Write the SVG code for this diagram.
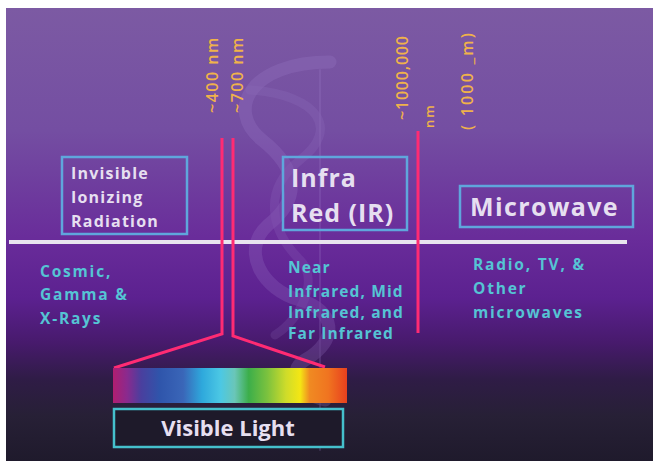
<svg xmlns="http://www.w3.org/2000/svg" width="653" height="461" viewBox="0 0 653 461">
<defs>
<linearGradient id="bg" x1="0" y1="8" x2="0" y2="461" gradientUnits="userSpaceOnUse">
<stop offset="0" stop-color="#7c5aa3"/>
<stop offset="0.27" stop-color="#744ea2"/>
<stop offset="0.51" stop-color="#692c9a"/>
<stop offset="0.64" stop-color="#5c2190"/>
<stop offset="0.74" stop-color="#471a6c"/>
<stop offset="0.82" stop-color="#2f1c46"/>
<stop offset="0.9" stop-color="#272036"/>
<stop offset="1" stop-color="#1f1a2c"/>
</linearGradient>
<linearGradient id="spec" x1="113" y1="0" x2="347" y2="0" gradientUnits="userSpaceOnUse">
<stop offset="0" stop-color="#b01e70"/>
<stop offset="0.06" stop-color="#8a2a8e"/>
<stop offset="0.12" stop-color="#4a3f9e"/>
<stop offset="0.2" stop-color="#2f55ab"/>
<stop offset="0.3" stop-color="#3a66b8"/>
<stop offset="0.38" stop-color="#2ea8dc"/>
<stop offset="0.46" stop-color="#4cc8e4"/>
<stop offset="0.52" stop-color="#6ac6b8"/>
<stop offset="0.58" stop-color="#3cae4a"/>
<stop offset="0.66" stop-color="#7cc23e"/>
<stop offset="0.74" stop-color="#cfdc2a"/>
<stop offset="0.8" stop-color="#f4e614"/>
<stop offset="0.84" stop-color="#f08a22"/>
<stop offset="0.92" stop-color="#f07420"/>
<stop offset="1" stop-color="#e8401e"/>
</linearGradient>
<style>
.box{fill:none;stroke:#5fa6dc;stroke-width:2.5}
.t{font-family:"Open Sans","DejaVu Sans",sans-serif;font-weight:700;fill:#e6dff0}
.c{font-family:"Open Sans","DejaVu Sans",sans-serif;font-weight:700;fill:#55c4d4;font-size:15.5px;letter-spacing:1.8px}
.o{font-family:"Open Sans","DejaVu Sans",sans-serif;font-weight:600;fill:#f0b24a;font-size:16px;letter-spacing:1.5px}
.pk{fill:none;stroke:#ff2b73;stroke-width:3;stroke-linejoin:miter}
.wm{fill:none;stroke:#a384d0;stroke-linecap:round}
</style>
</defs>

<rect x="0" y="0" width="653" height="461" fill="#ffffff"/>
<rect x="6" y="8" width="647" height="453" fill="url(#bg)"/>

<g id="watermark" opacity="0.4">
<line class="wm" x1="320" y1="70" x2="320" y2="450" stroke-width="2" opacity="0.5"/>
<path class="wm" d="M330 62 C 250 62, 225 110, 262 140 C 300 170, 300 200, 268 225 C 240 250, 262 290, 300 300 C 335 310, 340 340, 305 360 C 285 372, 300 395, 325 400" stroke-width="13" opacity="0.55"/>
<path class="wm" d="M250 90 C 320 95, 340 130, 300 160 C 262 190, 270 230, 300 260 C 320 280, 300 320, 275 335" stroke-width="9" opacity="0.4"/>
</g>

<line x1="9" y1="242" x2="627" y2="242" stroke="#e8e4ee" stroke-width="4"/>

<g id="connectors">
<polyline class="pk" points="222,138 222,334 114,368"/>
<polyline class="pk" points="233,138 233,336 325,367"/>
<line class="pk" x1="418" y1="131" x2="418" y2="333"/>
</g>

<g id="wavelengths">
<text class="o" transform="translate(218,113) rotate(-90)">~400 nm</text>
<text class="o" transform="translate(243,113) rotate(-90)">~700 nm</text>
<text class="o" transform="translate(408,120) rotate(-90)" style="letter-spacing:0.8px">~1000,000</text>
<text class="o" transform="translate(434,128) rotate(-90)" style="font-size:13px;letter-spacing:2px">nm</text>
<text class="o" transform="translate(473,130) rotate(-90)" style="letter-spacing:2.2px">( 1000 _m)</text>
</g>

<g id="ionizing">
<rect class="box" x="62" y="157" width="125" height="77"/>
<text class="t" x="71" y="179" font-size="16" letter-spacing="1.2">Invisible</text>
<text class="t" x="71" y="203" font-size="16" letter-spacing="1.2">Ionizing</text>
<text class="t" x="71" y="227" font-size="16" letter-spacing="1.2">Radiation</text>
<text class="c" x="40" y="277">Cosmic,</text>
<text class="c" x="40" y="300">Gamma &amp;</text>
<text class="c" x="40" y="324">X-Rays</text>
</g>

<g id="infrared">
<rect class="box" x="283" y="157" width="124" height="73"/>
<text class="t" x="291" y="187" font-size="25" letter-spacing="1">Infra</text>
<text class="t" x="291" y="222" font-size="25" letter-spacing="1">Red (IR)</text>
<text class="c" x="288" y="273" style="letter-spacing:1.1px">Near</text>
<text class="c" x="288" y="297" style="letter-spacing:1.1px">Infrared, Mid</text>
<text class="c" x="288" y="318" style="letter-spacing:1.1px">Infrared, and</text>
<text class="c" x="288" y="339" style="letter-spacing:1.1px">Far Infrared</text>
</g>

<g id="microwave">
<rect class="box" x="460" y="186" width="173" height="41"/>
<text class="t" x="470" y="216" font-size="25" letter-spacing="1.4">Microwave</text>
<text class="c" x="473" y="270">Radio, TV, &amp;</text>
<text class="c" x="473" y="294">Other</text>
<text class="c" x="473" y="318">microwaves</text>
</g>

<g id="visible">
<rect x="113" y="368" width="234" height="35" fill="url(#spec)"/>
<rect x="114" y="409" width="229" height="38" fill="#1e1a2a" stroke="#45c0cc" stroke-width="2.5"/>
<text class="t" x="228" y="436" font-size="22" text-anchor="middle">Visible Light</text>
</g>
</svg>
